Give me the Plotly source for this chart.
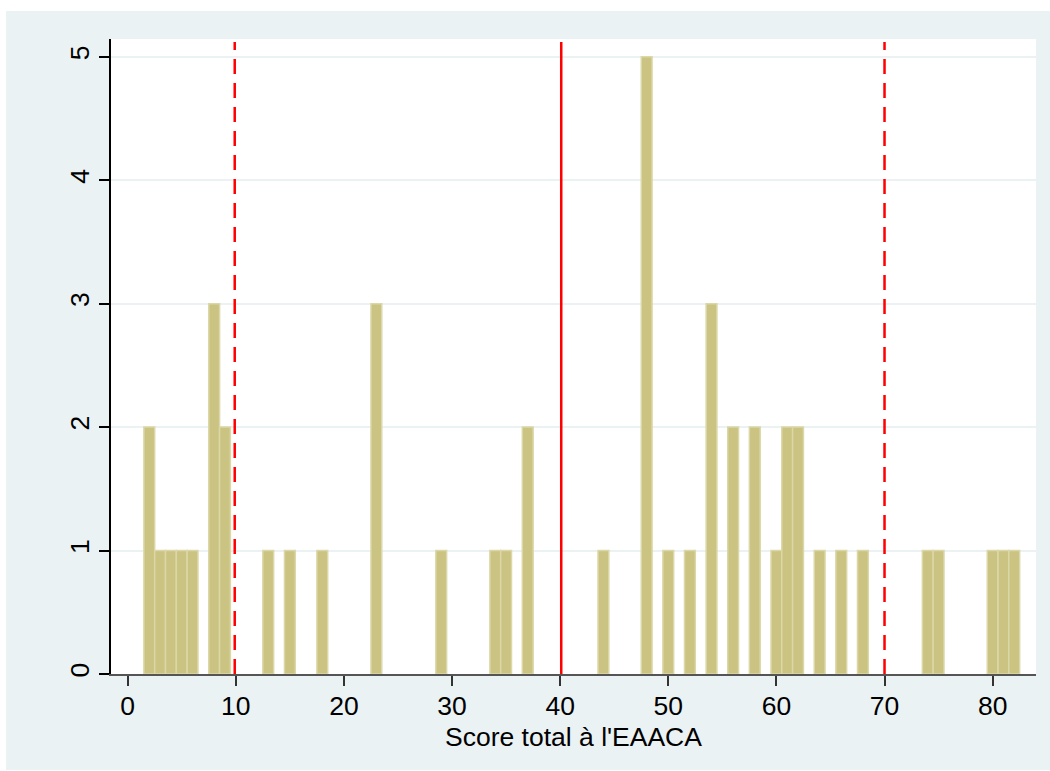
import plotly.graph_objects as go

# ---- data ----
scores = [2, 3, 4, 5, 6, 8, 9, 13, 15, 18, 23, 29, 34, 35, 37, 44, 48, 50, 52,
          54, 56, 58, 60, 61, 62, 64, 66, 68, 74, 75, 80, 81, 82]
counts = [2, 1, 1, 1, 1, 3, 2, 1, 1, 1, 3, 1, 1, 1, 2, 1, 5, 1, 1,
          3, 2, 2, 1, 2, 2, 1, 1, 1, 1, 1, 1, 1, 1]
center_line = 40.1
limit_lines = [9.9, 70.0]
x_ticks = [0, 10, 20, 30, 40, 50, 60, 70, 80]
y_ticks = [0, 1, 2, 3, 4, 5]
x_title = "Score total à l'EAACA"

# ---- layout constants ----
W, H = 1050, 771
ML, MR, MT, MB = 111, 14, 39, 97
PW, PH = W - ML - MR, H - MT - MB
BG = "#EAF2F3"
FONT = "Liberation Sans, Arial, sans-serif"


def px_x(p):
    return (p - ML) / PW


def px_y(p):
    return (H - MB - p) / PH


fig = go.Figure()
fig.add_trace(go.Bar(
    x=scores, y=counts, width=1.0,
    marker=dict(color="#CAC381", line=dict(color="#DCD7A8", width=1.5)),
    hoverinfo="x+y", showlegend=False,
))

shapes = []
# white strips outside the grey-blue graph region
shapes.append(dict(type="rect", xref="paper", yref="paper",
                   x0=px_x(0), x1=px_x(6), y0=px_y(H), y1=px_y(0),
                   fillcolor="white", line=dict(width=0), layer="above"))
shapes.append(dict(type="rect", xref="paper", yref="paper",
                   x0=px_x(0), x1=px_x(W), y0=px_y(11), y1=px_y(0),
                   fillcolor="white", line=dict(width=0), layer="above"))
shapes.append(dict(type="rect", xref="paper", yref="paper",
                   x0=px_x(0), x1=px_x(W), y0=px_y(H), y1=px_y(770),
                   fillcolor="white", line=dict(width=0), layer="above"))
# reference lines
shapes.append(dict(type="line", xref="x", yref="y", x0=center_line, x1=center_line,
                   y0=0, y1=5.12, line=dict(color="#FF0000", width=2.5)))
for v in limit_lines:
    shapes.append(dict(type="line", xref="x", yref="y", x0=v, x1=v,
                       y0=0, y1=5.12, line=dict(color="#FF0000", width=2.5, dash="15px,9px")))

fig.update_layout(
    width=W, height=H,
    margin=dict(l=ML, r=MR, t=MT, b=MB, pad=0),
    paper_bgcolor=BG, plot_bgcolor="white",
    font=dict(family=FONT, size=27, color="black"),
    shapes=shapes,
    showlegend=False,
    annotations=[dict(text=x_title, xref="paper", yref="paper",
                      x=px_x(573), y=px_y(737), xanchor="center", yanchor="middle",
                      showarrow=False, font=dict(size=26.5, family=FONT, color="black"))],
    xaxis=dict(
        range=[-1.543, 84.01], tickvals=x_ticks, ticktext=[str(t) for t in x_ticks],
        ticks="outside", ticklen=10, tickwidth=1.5, tickcolor="#333333",
        showline=True, linecolor="#555555", linewidth=1.5,
        showgrid=False, zeroline=False, ticklabelstandoff=-3,
        tickfont=dict(size=26.5),
    ),
    yaxis=dict(
        range=[0, 5.144], tickvals=y_ticks, ticktext=[str(t) for t in y_ticks],
        ticks="outside", ticklen=10, tickwidth=1.5, tickcolor="black",
        showline=True, linecolor="black", linewidth=1.5,
        showgrid=True, gridcolor=BG, gridwidth=2,
        zeroline=False, tickangle=-90, tickfont=dict(size=26.5),
    ),
)

fig.write_html("out.html", config={"displayModeBar": False},
               post_script="document.body.style.margin='0px';document.body.style.padding='0px';")
